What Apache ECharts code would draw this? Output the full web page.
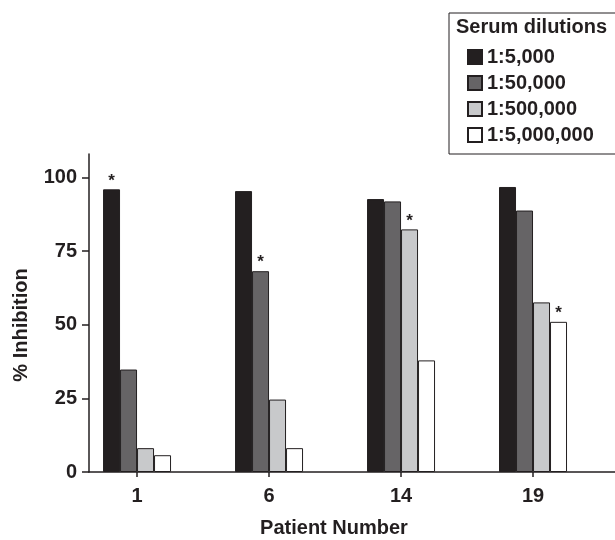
<!DOCTYPE html>
<html>
<head>
<meta charset="utf-8">
<script src="https://cdn.jsdelivr.net/npm/echarts@6/dist/echarts.min.js"></script>
<style>html,body{margin:0;padding:0;background:#fff;}#c{width:615px;height:540px;}</style>
</head>
<body>
<div id="c"></div>
<script>
const patients = ['1', '6', '14', '19'];
const dilutions = ['1:5,000', '1:50,000', '1:500,000', '1:5,000,000'];
const v5000 = [96.0, 95.4, 92.7, 96.8];
const v50000 = [34.8, 68.2, 91.9, 88.8];
const v500000 = [8.1, 24.6, 82.4, 57.6];
const v5000000 = [5.7, 8.1, 37.9, 51.0];
const starDilution = [0, 1, 2, 3]; // dilution index marked with * for each patient
const yTicks = [0, 25, 50, 75, 100];

const values = [v5000, v50000, v500000, v5000000];
const colors = ['#231f20', '#666466', '#c8c9cb', '#ffffff'];
const ink = '#231f20';
const font = '"Liberation Sans", Arial, Helvetica, sans-serif';
const xPos = patients.map((p, i) => i);

const chart = echarts.init(document.getElementById('c'), null, {renderer: 'canvas'});
const series = values.map((vals, s) => ({
  name: dilutions[s],
  type: 'bar',
  barWidth: 17,
  barGap: '0%',
  data: vals.map((v, i) => [xPos[i], v]),
  itemStyle: {color: colors[s], borderColor: ink, borderWidth: 1},
  label: {
    show: true,
    position: 'top',
    distance: 0,
    fontSize: 17,
    fontWeight: 'bold',
    fontFamily: font,
    color: ink,
    formatter: p => starDilution[p.dataIndex] === s ? '*' : ''
  },
  emphasis: {disabled: true}
}));

chart.setOption({
  animation: false,
  backgroundColor: '#fff',
  grid: {left: 89, right: 0, top: 154, bottom: 68, containLabel: false},
  xAxis: {
    type: 'value',
    min: -0.364,
    max: 3.621,
    axisLine: {show: true, onZero: false, lineStyle: {color: ink, width: 1.5}},
    axisTick: {show: true, length: 5, customValues: xPos, lineStyle: {color: ink, width: 1.5}},
    axisLabel: {
      customValues: xPos,
      formatter: v => patients[Math.round(v)],
      fontSize: 20, fontWeight: 'bold', fontFamily: font, color: ink, margin: 14
    },
    splitLine: {show: false}
  },
  yAxis: {
    type: 'value',
    min: 0,
    max: 108,
    axisLine: {show: true, onZero: false, lineStyle: {color: ink, width: 1.5}},
    axisTick: {show: true, length: 7, customValues: yTicks, lineStyle: {color: ink, width: 1.5}},
    axisLabel: {
      customValues: yTicks,
      fontSize: 20, fontWeight: 'bold', fontFamily: font, color: ink, margin: 12
    },
    splitLine: {show: false}
  },
  legend: {
    orient: 'vertical',
    left: 449,
    top: 13,
    padding: [34, 40, 9, 18],
    borderColor: ink,
    borderWidth: 1,
    itemWidth: 14,
    itemHeight: 14,
    itemGap: 6,
    icon: 'rect',
    selectedMode: false,
    textStyle: {fontSize: 20, fontWeight: 'bold', fontFamily: font, color: ink, lineHeight: 17},
    data: dilutions
  },
  graphic: [
    {type: 'text', left: 456, top: 17, style: {text: 'Serum dilutions', fontSize: 20, fontWeight: 'bold', fontFamily: font, fill: ink}},
    {type: 'text', x: 21, y: 325, rotation: Math.PI / 2, style: {text: '% Inhibition', fontSize: 20, fontWeight: 'bold', fontFamily: font, fill: ink, align: 'center', verticalAlign: 'middle'}},
    {type: 'text', x: 334, y: 528, style: {text: 'Patient Number', fontSize: 20, fontWeight: 'bold', fontFamily: font, fill: ink, align: 'center', verticalAlign: 'middle'}}
  ],
  series: series
});
</script>
</body>
</html>
